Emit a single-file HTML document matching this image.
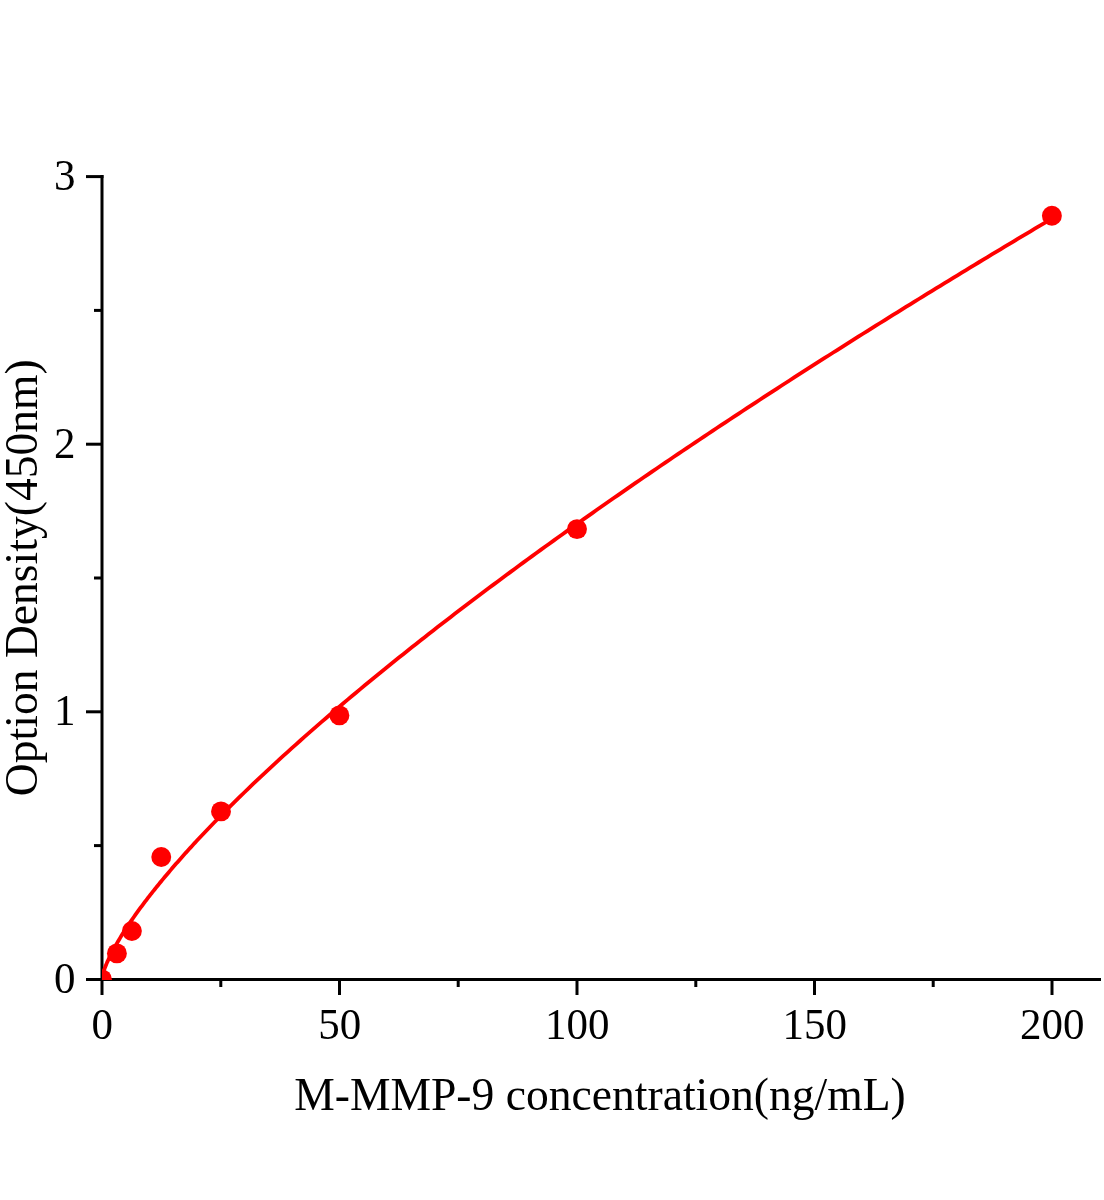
<!DOCTYPE html>
<html><head><meta charset="utf-8"><style>
html,body{margin:0;padding:0;background:#fff;}
svg{display:block;will-change:transform;}
text{font-family:"Liberation Serif",serif;fill:#000;}
</style></head><body>
<svg width="1104" height="1200" viewBox="0 0 1104 1200">
<defs><clipPath id="c"><rect x="101.9" y="150" width="1000" height="829.9"/></clipPath></defs>
<g stroke="#000" stroke-width="3" fill="none">
<line x1="102.0" y1="175" x2="102.0" y2="995"/>
<line x1="86" y1="979.4" x2="1101" y2="979.4"/>
<line x1="86" y1="711.8" x2="102.0" y2="711.8"/>
<line x1="86" y1="444.2" x2="102.0" y2="444.2"/>
<line x1="86" y1="176.6" x2="103.5" y2="176.6"/>
<line x1="94" y1="845.6" x2="102.0" y2="845.6"/>
<line x1="94" y1="578.0" x2="102.0" y2="578.0"/>
<line x1="94" y1="310.4" x2="102.0" y2="310.4"/>
<line x1="339.5" y1="979.4" x2="339.5" y2="995"/>
<line x1="577.0" y1="979.4" x2="577.0" y2="995"/>
<line x1="814.5" y1="979.4" x2="814.5" y2="995"/>
<line x1="1052.0" y1="979.4" x2="1052.0" y2="995"/>
<line x1="220.8" y1="979.4" x2="220.8" y2="987"/>
<line x1="458.2" y1="979.4" x2="458.2" y2="987"/>
<line x1="695.8" y1="979.4" x2="695.8" y2="987"/>
<line x1="933.2" y1="979.4" x2="933.2" y2="987"/>
</g>
<g clip-path="url(#c)">
<polyline points="102.00,978.12 102.33,976.08 102.66,974.70 102.98,973.50 103.31,972.41 103.64,971.38 103.97,970.40 104.29,969.46 104.62,968.56 104.95,967.68 105.28,966.84 105.60,966.01 105.93,965.20 106.26,964.41 106.59,963.63 106.91,962.87 107.24,962.12 107.57,961.39 107.90,960.66 108.22,959.94 108.55,959.24 108.88,958.54 109.21,957.85 109.53,957.17 109.86,956.50 110.19,955.84 110.52,955.18 110.84,954.52 111.17,953.88 111.50,953.24 112.58,951.16 113.66,949.14 114.75,947.17 115.83,945.24 116.91,943.34 117.99,941.49 119.08,939.66 120.16,937.87 121.24,936.10 122.32,934.36 123.41,932.64 124.49,930.94 125.57,929.26 126.65,927.61 127.73,925.97 128.82,924.35 129.90,922.75 130.98,921.16 132.06,919.59 133.15,918.03 134.23,916.49 135.31,914.95 136.39,913.44 137.47,911.93 138.56,910.44 139.64,908.96 140.72,907.48 141.80,906.02 142.89,904.57 143.97,903.13 145.05,901.70 146.13,900.28 147.22,898.87 148.30,897.46 149.38,896.07 150.46,894.68 151.54,893.30 152.63,891.93 153.71,890.56 154.79,889.20 155.87,887.85 156.96,886.51 158.04,885.18 159.12,883.85 160.20,882.52 161.28,881.21 162.37,879.90 163.45,878.59 164.53,877.29 165.61,876.00 166.70,874.71 167.78,873.43 168.86,872.15 169.94,870.88 171.03,869.62 172.11,868.36 173.19,867.10 174.27,865.85 175.35,864.60 176.44,863.36 177.52,862.13 178.60,860.89 179.68,859.67 180.77,858.44 181.85,857.22 182.93,856.01 184.01,854.80 185.09,853.59 186.18,852.39 187.26,851.19 188.34,850.00 189.42,848.81 190.51,847.62 191.59,846.44 192.67,845.26 193.75,844.08 194.84,842.91 195.92,841.74 197.00,840.58 201.30,835.99 205.59,831.44 209.89,826.95 214.19,822.50 218.48,818.10 222.78,813.74 227.08,809.42 231.37,805.13 235.67,800.89 239.96,796.67 244.26,792.50 248.56,788.35 252.85,784.24 257.15,780.15 261.45,776.10 265.74,772.07 270.04,768.07 274.34,764.09 278.63,760.15 282.93,756.22 287.23,752.32 291.52,748.44 295.82,744.59 300.12,740.76 304.41,736.95 308.71,733.16 313.01,729.39 317.30,725.64 321.60,721.91 325.89,718.20 330.19,714.50 334.49,710.83 338.78,707.17 343.08,703.53 347.38,699.90 351.67,696.30 355.97,692.70 360.27,689.13 364.56,685.57 368.86,682.02 373.16,678.49 377.45,674.97 381.75,671.47 386.05,667.98 390.34,664.51 394.64,661.04 398.93,657.60 403.23,654.16 407.53,650.74 411.82,647.33 416.12,643.93 420.42,640.54 424.71,637.17 429.01,633.80 433.31,630.45 437.60,627.11 441.90,623.78 446.20,620.46 450.49,617.15 454.79,613.86 459.09,610.57 463.38,607.29 467.68,604.02 471.97,600.77 476.27,597.52 480.57,594.28 484.86,591.05 489.16,587.83 493.46,584.62 497.75,581.42 502.05,578.23 506.35,575.05 510.64,571.88 514.94,568.71 519.24,565.55 523.53,562.40 527.83,559.26 532.13,556.13 536.42,553.01 540.72,549.89 545.02,546.78 549.31,543.68 553.61,540.59 557.90,537.51 562.20,534.43 566.50,531.36 570.79,528.30 575.09,525.24 579.39,522.19 583.68,519.15 587.98,516.12 592.28,513.09 596.57,510.07 600.87,507.05 605.17,504.05 609.46,501.05 613.76,498.05 618.06,495.07 622.35,492.08 626.65,489.11 630.94,486.14 635.24,483.18 639.54,480.22 643.83,477.27 648.13,474.33 652.43,471.39 656.72,468.46 661.02,465.53 665.32,462.61 669.61,459.70 673.91,456.79 678.21,453.89 682.50,450.99 686.80,448.10 691.10,445.21 695.39,442.33 699.69,439.46 703.98,436.59 708.28,433.72 712.58,430.86 716.87,428.01 721.17,425.16 725.47,422.31 729.76,419.47 734.06,416.64 738.36,413.81 742.65,410.99 746.95,408.17 751.25,405.35 755.54,402.54 759.84,399.74 764.14,396.94 768.43,394.14 772.73,391.35 777.03,388.57 781.32,385.78 785.62,383.01 789.91,380.23 794.21,377.47 798.51,374.70 802.80,371.94 807.10,369.19 811.40,366.44 815.69,363.69 819.99,360.95 824.29,358.21 828.58,355.48 832.88,352.75 837.18,350.03 841.47,347.30 845.77,344.59 850.07,341.88 854.36,339.17 858.66,336.46 862.95,333.76 867.25,331.06 871.55,328.37 875.84,325.68 880.14,323.00 884.44,320.32 888.73,317.64 893.03,314.97 897.33,312.30 901.62,309.63 905.92,306.97 910.22,304.31 914.51,301.65 918.81,299.00 923.11,296.35 927.40,293.71 931.70,291.07 935.99,288.43 940.29,285.80 944.59,283.17 948.88,280.54 953.18,277.92 957.48,275.30 961.77,272.68 966.07,270.07 970.37,267.46 974.66,264.85 978.96,262.25 983.26,259.65 987.55,257.05 991.85,254.46 996.15,251.87 1000.44,249.28 1004.74,246.70 1009.04,244.12 1013.33,241.54 1017.63,238.97 1021.92,236.40 1026.22,233.83 1030.52,231.27 1034.81,228.70 1039.11,226.15 1043.41,223.59 1047.70,221.04 1052.00,218.49" fill="none" stroke="#f00" stroke-width="3.8" stroke-linejoin="round"/>
<g fill="#f00">
<circle cx="102" cy="979.4" r="9.95"/>
<circle cx="116.9" cy="953.4" r="9.95"/>
<circle cx="131.9" cy="931.0" r="9.95"/>
<circle cx="161.25" cy="857.0" r="9.95"/>
<circle cx="221.0" cy="811.4" r="9.95"/>
<circle cx="339.4" cy="715.4" r="9.95"/>
<circle cx="577.0" cy="529.1" r="9.95"/>
<circle cx="1051.9" cy="215.7" r="9.95"/>
</g>
</g>
<g font-size="43">
<text transform="translate(75.5,992.7) scale(1,1.035)" text-anchor="end">0</text>
<text transform="translate(75.5,725.1) scale(1,1.035)" text-anchor="end">1</text>
<text transform="translate(75.5,457.5) scale(1,1.035)" text-anchor="end">2</text>
<text transform="translate(75.5,189.9) scale(1,1.035)" text-anchor="end">3</text>
<text transform="translate(102.3,1038.5) scale(1,1.035)" text-anchor="middle">0</text>
<text transform="translate(339.8,1038.5) scale(1,1.035)" text-anchor="middle">50</text>
<text transform="translate(577.3,1038.5) scale(1,1.035)" text-anchor="middle">100</text>
<text transform="translate(814.8,1038.5) scale(1,1.035)" text-anchor="middle">150</text>
<text transform="translate(1052.3,1038.5) scale(1,1.035)" text-anchor="middle">200</text>
</g>
<text x="600" y="1110.4" font-size="45.6" text-anchor="middle">M-MMP-9 concentration(ng/mL)</text>
<text transform="translate(36.6,577.7) rotate(-90)" font-size="45.6" text-anchor="middle">Option Density(450nm)</text>
</svg>
</body></html>
